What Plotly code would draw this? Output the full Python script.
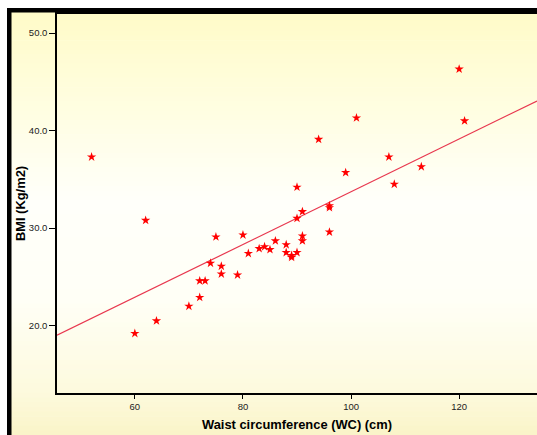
import numpy as np
import plotly.graph_objects as go

# ---- data ----
waist_cm = [52, 60, 62, 64, 70, 72, 72, 73, 74, 75,
            76, 76, 79, 80, 81, 83, 84, 85, 86, 88,
            88, 89, 89, 90, 90, 90, 91, 91, 91, 94,
            96, 96, 96, 99, 101, 107, 108, 113, 120, 121]
bmi = [37.3, 19.2, 30.8, 20.5, 22.0, 22.9, 24.6, 24.6, 26.4, 29.1,
       26.1, 25.3, 25.2, 29.3, 27.4, 27.9, 28.1, 27.8, 28.7, 28.3,
       27.5, 27.2, 27.0, 27.5, 34.2, 31.0, 31.7, 29.2, 28.7, 39.1,
       32.3, 32.1, 29.6, 35.7, 41.3, 37.3, 34.5, 36.3, 46.3, 41.0]
x_ticks = [60, 80, 100, 120]
y_ticks = [20, 30, 40, 50]
y_tick_labels = ["20.0", "30.0", "40.0", "50.0"]
x_range = [45.6, 134.4]
y_range = [13.1, 51.95]

W, H = 537, 435
ML, MR, MT, MB = 57, 0, 14, 42
PW, PH = W - ML - MR, H - MT - MB

slope, intercept = np.polyfit(waist_cm, bmi, 1)
fit_x = np.array(x_range)
fit_y = slope * fit_x + intercept

def px_x(p):
    return (p - ML) / PW

def px_y(p):
    return (H - MB - p) / PH

# vertical gradient background
stops = [(12, (255, 251, 200)), (120, (255, 254, 228)), (200, (255, 255, 250)),
         (300, (255, 255, 246)), (390, (253, 250, 222)), (435, (250, 244, 200))]

def col_at(p):
    for (p0, c0), (p1, c1) in zip(stops[:-1], stops[1:]):
        if p0 <= p <= p1:
            t = (p - p0) / (p1 - p0)
            c = [round(a + (b - a) * t) for a, b in zip(c0, c1)]
            return "rgb(%d,%d,%d)" % tuple(c)
    return "rgb(%d,%d,%d)" % stops[-1][1]

shapes = []
n = 90
edges = np.linspace(12, H, n + 1)
for a, b in zip(edges[:-1], edges[1:]):
    shapes.append(dict(type="rect", xref="paper", yref="paper",
                       x0=px_x(11), x1=px_x(W + 2), y0=px_y(b + 0.6), y1=px_y(a),
                       fillcolor=col_at((a + b) / 2), line_width=0, layer="below"))
# black frame (left and top)
shapes.append(dict(type="rect", xref="paper", yref="paper",
                   x0=px_x(7), x1=px_x(11.5), y0=px_y(H + 2), y1=px_y(8),
                   fillcolor="black", line_width=0, layer="above"))
shapes.append(dict(type="rect", xref="paper", yref="paper",
                   x0=px_x(7), x1=px_x(W + 2), y0=px_y(12.5), y1=px_y(8),
                   fillcolor="black", line_width=0, layer="above"))

fig = go.Figure()
fig.add_trace(go.Scatter(x=fit_x, y=fit_y, mode="lines",
                         line=dict(color="#E8384F", width=1.2),
                         hoverinfo="skip", showlegend=False))
fig.add_trace(go.Scatter(x=waist_cm, y=bmi, mode="markers",
                         marker=dict(symbol="star", size=7, color="#FF0000",
                                     line=dict(width=0)),
                         showlegend=False))

tickfont = dict(family="Liberation Sans, Arial, sans-serif", size=9.5, color="#222")
titlefont = dict(family="Liberation Sans, Arial, sans-serif", size=12.9, color="black")

fig.update_layout(
    width=W, height=H,
    margin=dict(l=ML, r=MR, t=MT, b=MB, pad=0),
    paper_bgcolor="white",
    plot_bgcolor="rgba(0,0,0,0)",
    shapes=shapes,
    xaxis=dict(range=x_range, tickvals=x_ticks, ticks="outside", ticklen=4,
               tickcolor="black", showline=True, linecolor="black", linewidth=1.5,
               mirror=True, showgrid=False, zeroline=False, tickfont=tickfont,
               title=dict(text="<b>Waist circumference (WC) (cm)</b>",
                          font=titlefont, standoff=9),
               automargin=False),
    yaxis=dict(range=y_range, tickvals=y_ticks, ticktext=y_tick_labels,
               ticks="outside", ticklen=6, tickcolor="black",
               showline=True, linecolor="black", linewidth=1.5, mirror=False,
               showgrid=False, zeroline=False, tickfont=tickfont,
               title=dict(text="<b>BMI (Kg/m2)</b>", font=titlefont, standoff=0),
               automargin=False),
)

fig.write_html(
    "out.html",
    config={"displayModeBar": False},
    post_script="document.body.style.margin='0';document.body.style.overflow='hidden';",
)
